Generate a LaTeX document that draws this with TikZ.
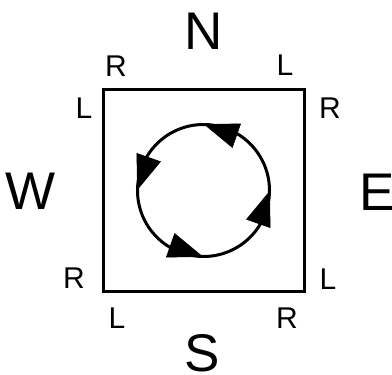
\documentclass[tikz,border=0pt]{standalone}
\usepackage{fontspec}
\setmainfont{Liberation Sans}
\usetikzlibrary{calc}
\begin{document}
\begin{tikzpicture}[x=1pt,y=-1pt,
  big/.style={font=\fontsize{53}{53}\selectfont, inner sep=0pt},
  small/.style={font=\fontsize{30}{30}\selectfont, inner sep=0pt},
  ring/.style={line width=3pt},
  headfill/.style={fill=black, draw=black, line width=0.6pt, line join=miter}]
\useasboundingbox (0,0) rectangle (392,375);
\node[draw, line width=3pt, minimum width=201pt, minimum height=202pt, inner sep=0pt] (sq) at (203.5,190) {};
\node[big] (N) at (204,31) {N};
\node[big] (W) at (31,191) {W};
\node[big] (E) at (377,192) {E};
\node[big] (S) at (202,353) {S};
\node[small] (r1) at (116,66) {R};
\node[small] (l1) at (84,108) {L};
\node[small] (l2) at (285,65) {L};
\node[small] (r2) at (330,108) {R};
\node[small] (r3) at (74,278) {R};
\node[small] (l3) at (117,318) {L};
\node[small] (r4) at (287,318) {R};
\node[small] (l4) at (328,279) {L};
\coordinate (c) at (203.5,190.5);
\draw[ring] (c) circle[radius=66pt];
\foreach \a in {0,90,180,270}{
  \coordinate (t) at ($(c)+(\a-1:66pt)$);
  \coordinate (b) at ($(c)+(\a-31:64pt)$);
  \fill[headfill] (t) -- ($(b)!12.5pt!90:(t)$) -- ($(b)!12.5pt!-90:(t)$) -- cycle;
}
\end{tikzpicture}
\end{document}
